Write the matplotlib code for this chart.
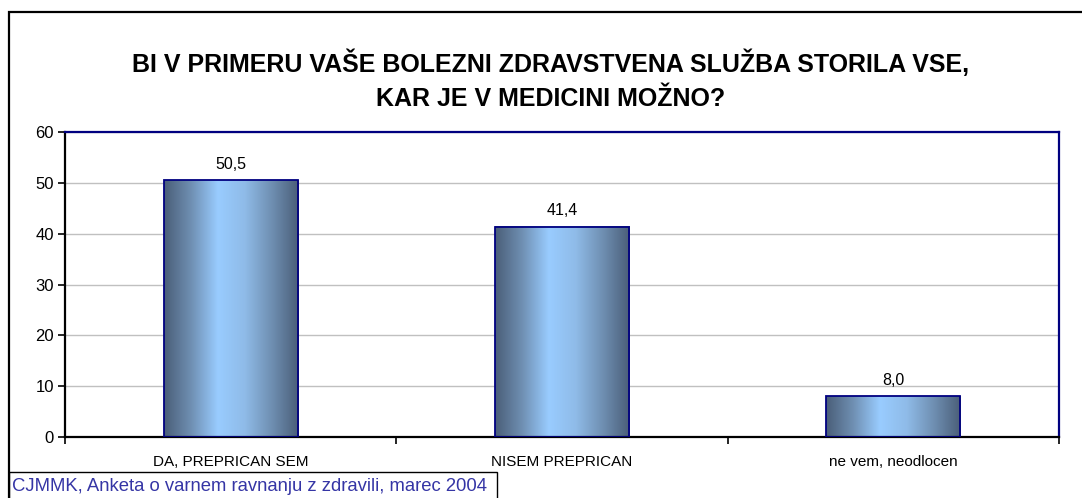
import numpy as np
import matplotlib.pyplot as plt
from matplotlib.patches import Rectangle
from matplotlib.colors import LinearSegmentedColormap

plt.rcParams['font.family'] = ['Liberation Sans', 'DejaVu Sans']

# data
categories = ['DA, PREPRICAN SEM', 'NISEM PREPRICAN', 'ne vem, neodlocen']
values = [50.5, 41.4, 8.0]
value_labels = ['50,5', '41,4', '8,0']
yticks = [0, 10, 20, 30, 40, 50, 60]
title = 'BI V PRIMERU VAŠE BOLEZNI ZDRAVSTVENA SLUŽBA STORILA VSE,\nKAR JE V MEDICINI MOŽNO?'
source = 'CJMMK, Anketa o varnem ravnanju z zdravili, marec 2004'

W, H = 1082, 498
fig = plt.figure(figsize=(W / 100, H / 100), dpi=100)
ax = fig.add_axes([65 / W, 1 - 437 / H, (1059 - 65) / W, (437 - 132) / H])

x = np.arange(len(categories))
bars = ax.bar(x, values, width=0.405, facecolor='none', edgecolor='#000080',
              linewidth=1.3, zorder=3)

# cylinder-like horizontal gradient inside each bar
grad_cmap = LinearSegmentedColormap.from_list(
    'bar', ['#4a5e78', '#6f8fb2', '#99ccff', '#8fbbe8', '#6f8fb2', '#4a5e78'])
grad = np.linspace(0, 1, 256).reshape(1, -1)
for b in bars:
    x0, w, h = b.get_x(), b.get_width(), b.get_height()
    ax.imshow(grad, cmap=grad_cmap, aspect='auto', extent=[x0, x0 + w, 0, h],
              zorder=2, interpolation='bilinear')

for b, lab in zip(bars, value_labels):
    ax.annotate(lab, (b.get_x() + b.get_width() / 2, b.get_height()),
                xytext=(0, 6), textcoords='offset points',
                ha='center', va='bottom', fontsize=11.5)

ax.set_xlim(-0.5, len(categories) - 0.5)
ax.set_ylim(0, 60)
ax.set_yticks(yticks)
ax.yaxis.grid(True, color='#c0c0c0', linewidth=1, zorder=0)
ax.set_axisbelow(True)

ax.set_xticks(np.arange(-0.5, len(categories), 1.0))
ax.set_xticklabels([])
ax.set_xticks(x, minor=True)
ax.set_xticklabels(categories, minor=True, fontsize=11)
ax.tick_params(axis='x', which='minor', length=0, pad=13)
ax.tick_params(axis='x', which='major', length=5, width=1.2, direction='out')
ax.tick_params(axis='y', length=5, width=1.2, direction='out', labelsize=12, pad=3)

for s in ['left', 'bottom']:
    ax.spines[s].set_color('black')
    ax.spines[s].set_linewidth(1.6)
for s in ['top', 'right']:
    ax.spines[s].set_color('#000080')
    ax.spines[s].set_linewidth(1.6)

fig.text(551 / W, 1 - 80 / H, title, ha='center', va='center', fontsize=18,
         fontweight='bold', linespacing=1.55)

# outer chart frame
fig.patches.append(Rectangle((9 / W, -0.05), 1.2, 1 - 12 / H + 0.05,
                             transform=fig.transFigure, fill=False,
                             edgecolor='black', linewidth=1.6))
# source box
fig.patches.append(Rectangle((9 / W, -0.05), (497 - 9) / W, (498 - 472) / H + 0.05,
                             transform=fig.transFigure, fill=False,
                             edgecolor='black', linewidth=1.0))
fig.text(12 / W, 1 - 486 / H, source, ha='left', va='center', fontsize=13.3,
         color='#3535a5')

fig.savefig('out.png', dpi=100)
